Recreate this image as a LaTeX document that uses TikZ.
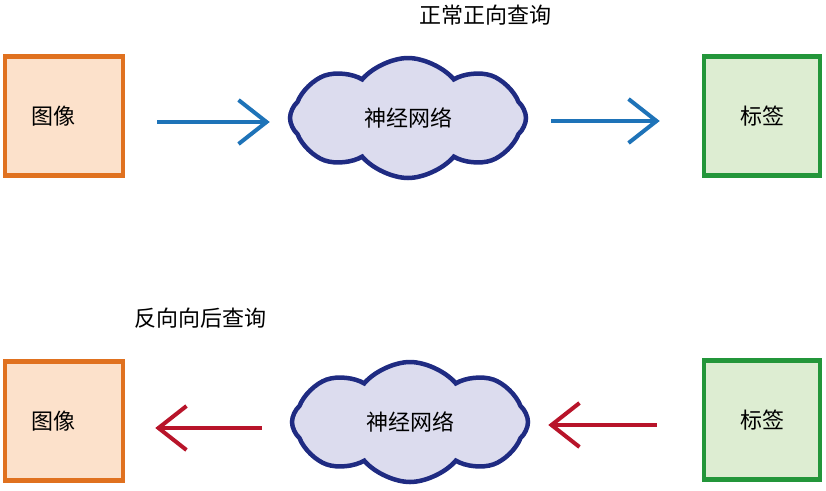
\documentclass[tikz,border=0pt]{standalone}
\usepackage{fontspec}
\newfontfamily\cjk{Noto Sans CJK SC}
\usetikzlibrary{arrows.meta, shapes.symbols}

\definecolor{imgedge}{HTML}{E0711F}
\definecolor{imgfill}{HTML}{FCE1CB}
\definecolor{tagedge}{HTML}{23963A}
\definecolor{tagfill}{HTML}{DDEDD2}
\definecolor{netedge}{HTML}{1F2B82}
\definecolor{netfill}{HTML}{DCDCEE}
\definecolor{fwd}{HTML}{1E73B8}
\definecolor{bwd}{HTML}{B8142A}

\tikzset{
  imgbox/.style={draw=imgedge, fill=imgfill, line width=4.5pt, minimum width=118pt, minimum height=119pt, font=\cjk\fontsize{22}{22}\selectfont},
  tagbox/.style={draw=tagedge, fill=tagfill, line width=4.5pt, minimum width=116pt, minimum height=119pt, font=\cjk\fontsize{22}{22}\selectfont},
  netcloud/.style={cloud, cloud puffs=8, cloud puff arc=100, aspect=2.0, draw=netedge, fill=netfill, line width=4.5pt, minimum width=236pt, minimum height=120pt, inner sep=0pt, font=\cjk\fontsize{22}{22}\selectfont},
  fwdarrow/.style={draw=fwd, line width=4pt, -{Straight Barb[length=28pt, width=44pt]}},
  bwdarrow/.style={draw=bwd, line width=4pt, -{Straight Barb[length=28pt, width=44pt]}},
  caption/.style={font=\cjk\fontsize{22}{22}\selectfont}
}

\begin{document}
\begin{tikzpicture}[x=1pt, y=-1pt]
    \useasboundingbox (0, 0) rectangle (826, 490);

    % normal forward query
    \node[caption] (fwdtitle) at (485, 15) {正常正向查询};
    \node[imgbox] (img1) at (64, 116) {\hspace*{-22pt}图像};
    \node[netcloud] (net1) at (408, 118) {神经网络};
    \node[tagbox] (tag1) at (762, 116) {标签};
    \draw[fwdarrow, shorten <=32pt, shorten >=18pt] (img1.east |- 0, 122) -- (net1.west |- 0, 122);
    \draw[fwdarrow, shorten <=23pt, shorten >=42pt] (net1.east |- 0, 121) -- (tag1.west |- 0, 121);

    % reverse backward query
    \node[caption] (bwdtitle) at (200, 318) {反向向后查询};
    \node[imgbox] (img2) at (64, 421) {\hspace*{-22pt}图像};
    \node[netcloud] (net2) at (410, 422) {神经网络};
    \node[tagbox] (tag2) at (762, 420) {标签};
    \draw[bwdarrow, shorten <=28pt, shorten >=30pt] (net2.west |- 0, 428) -- (img2.east |- 0, 428);
    \draw[bwdarrow, shorten <=45pt, shorten >=18pt] (tag2.west |- 0, 425) -- (net2.east |- 0, 425);
\end{tikzpicture}
\end{document}
